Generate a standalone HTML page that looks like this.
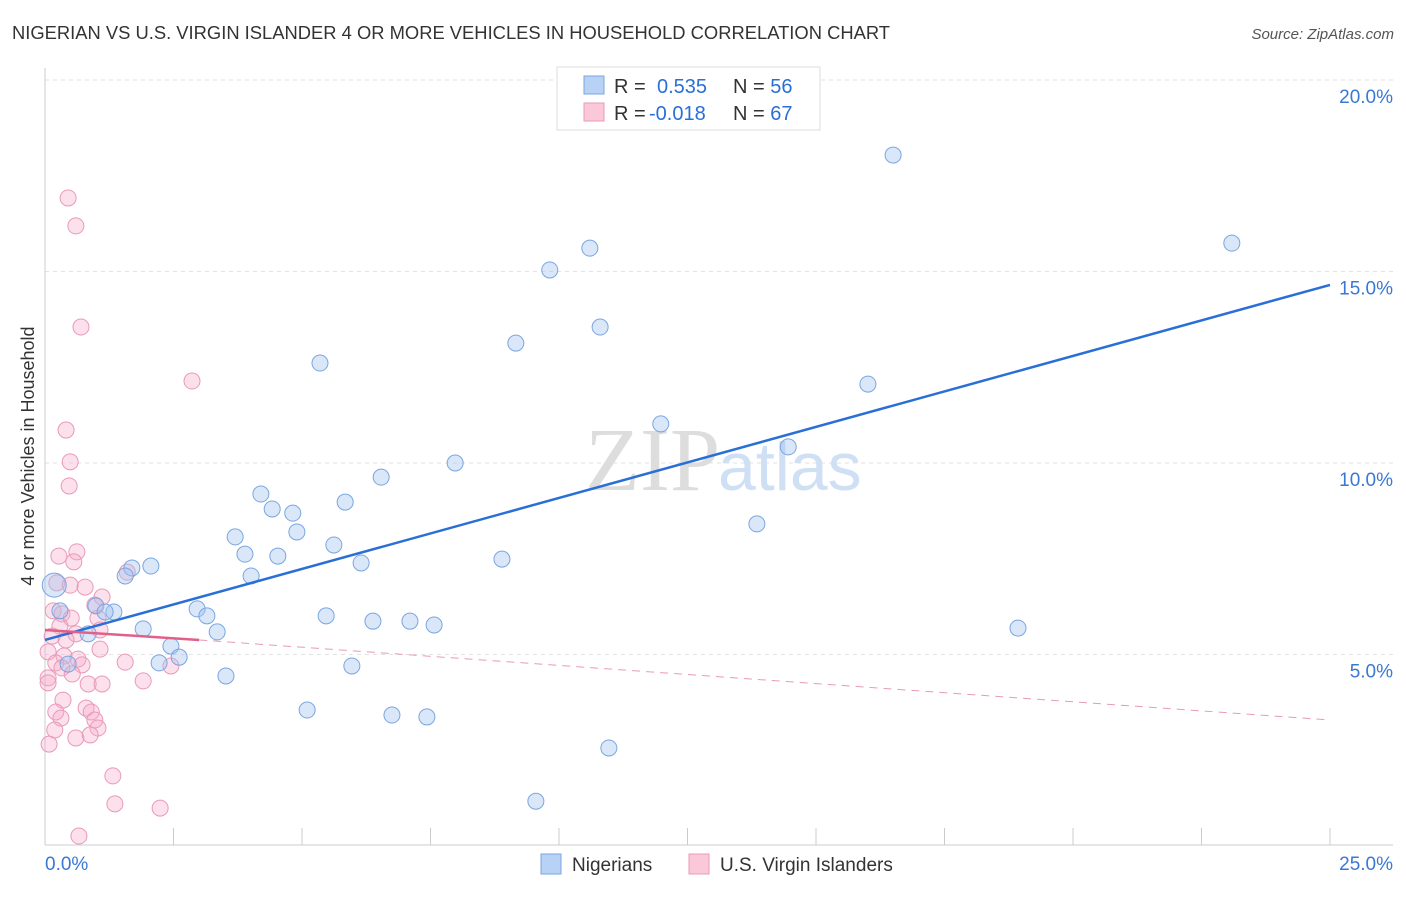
<!DOCTYPE html>
<html><head><meta charset="utf-8"><style>
body{margin:0;background:#fff;font-family:"Liberation Sans",sans-serif}
</style></head><body>
<svg width="1406" height="892" viewBox="0 0 1406 892" xmlns="http://www.w3.org/2000/svg">
<text x="12" y="39" font-size="18" fill="#333" textLength="878" lengthAdjust="spacingAndGlyphs">NIGERIAN VS U.S. VIRGIN ISLANDER 4 OR MORE VEHICLES IN HOUSEHOLD CORRELATION CHART</text>
<text x="1394" y="39" font-size="15" fill="#555" font-style="italic" text-anchor="end">Source: ZipAtlas.com</text>
<g id="grid"></g>
<text x="720" y="490" font-size="90" fill="#ddd" text-anchor="end" font-family="Liberation Serif">ZIP</text>
<text x="718" y="490" font-size="68" fill="#cfe0f5">atlas</text>
<line x1="45" y1="68" x2="45" y2="845" stroke="#ccc"/>
<line x1="45" y1="845" x2="1393" y2="845" stroke="#ccc"/>
<text transform="translate(34,456) rotate(-90)" font-size="18" fill="#333" text-anchor="middle">4 or more Vehicles in Household</text>
<text x="45" y="870" font-size="19" fill="#3a78d4">0.0%</text>
<text x="1393" y="870" font-size="19" fill="#3a78d4" text-anchor="end">25.0%</text>
<g id="marks"></g>
<g>
<rect x="557" y="67" width="263" height="63" fill="#fff" stroke="#ddd"/>
<rect x="584" y="76" width="20" height="18" fill="#b8d2f5" stroke="#7aa6e0"/>
<rect x="584" y="103" width="20" height="18" fill="#fbc8da" stroke="#e89ab8"/>
<text x="614" y="93" font-size="20" fill="#333">R = <tspan x="657" fill="#2a6fd6">0.535</tspan><tspan x="733">N = </tspan><tspan fill="#2a6fd6">56</tspan></text>
<text x="614" y="120" font-size="20" fill="#333">R = <tspan x="649" fill="#2a6fd6">-0.018</tspan><tspan x="733">N = </tspan><tspan fill="#2a6fd6">67</tspan></text>
</g>
<g>
<rect x="541" y="854" width="20" height="20" fill="#b8d2f5" stroke="#7aa6e0"/>
<text x="572" y="871" font-size="19" fill="#333">Nigerians</text>
<rect x="689" y="854" width="20" height="20" fill="#fbc8da" stroke="#e89ab8"/>
<text x="720" y="871" font-size="19" fill="#333">U.S. Virgin Islanders</text>
</g>
</svg>
<script>
const yTicks=[5,10,15,20];
const xTicks=[0,2.5,5,7.5,10,12.5,15,17.5,20,22.5,25];
const blueX=[16.5,23.09,10.6,9.82,10.8,9.16,5.35,16.01,11.98,14.46,7.98,6.54,4.2,5.84,4.42,4.82,13.85,4.9,3.7,5.62,3.89,4.53,8.89,6.15,2.06,1.69,1.56,4.01,2.8,2.96,0.99,1.34,1.17,3.15,5.47,6.38,7.1,7.57,18.93,1.91,3.35,0.84,0.29,2.45,2.61,2.22,5.97,0.45,3.52,5.1,6.75,7.43,10.97,9.55];
const blueY=[18.04,15.74,15.61,15.04,13.55,13.13,12.61,12.06,11.02,10.42,10,9.63,9.19,8.98,8.8,8.69,8.41,8.2,8.07,7.86,7.62,7.57,7.49,7.39,7.31,7.26,7.05,7.05,6.34,6.19,6.27,6.11,6.11,6.01,6.01,5.87,5.87,5.77,5.69,5.67,5.59,5.54,6.14,5.22,4.93,4.78,4.7,4.75,4.44,3.55,3.42,3.37,2.56,1.17];
const pinkX=[0.45,0.6,0.7,2.86,0.41,0.49,0.47,0.62,0.27,0.56,1.6,0.23,0.49,0.78,1.11,0.97,0.16,0.33,0.51,1.03,0.29,1.07,0.6,0.14,0.41,1.07,0.06,0.37,0.64,0.21,1.56,0.72,0.33,2.45,0.53,0.06,0.84,1.11,1.91,0.06,0.35,0.21,0.8,0.9,0.31,0.97,1.03,0.19,0.6,0.88,0.08,1.32,1.36,2.24,0.66];
const pinkY=[16.92,16.19,13.55,12.14,10.86,10.03,9.4,7.68,7.57,7.42,7.15,6.87,6.81,6.76,6.5,6.29,6.14,6.06,5.95,5.95,5.74,5.64,5.54,5.48,5.38,5.14,5.07,4.96,4.88,4.78,4.8,4.73,4.65,4.7,4.49,4.39,4.23,4.23,4.31,4.26,3.81,3.5,3.6,3.5,3.34,3.29,3.08,3.03,2.82,2.9,2.66,1.83,1.1,0.99,0.26];
const blueTrend=[[0,5.38],[25,14.65]];
const pinkTrend=[[0,5.64],[3,5.38],[25,3.29]];
const sx=v=>45+v*51.4, sy=v=>846-v*38.3;
const NS='http://www.w3.org/2000/svg';
function mk(t,a,p){const e=document.createElementNS(NS,t);for(const k in a)e.setAttribute(k,a[k]);p.appendChild(e);return e;}
const g=document.getElementById('grid'), m=document.getElementById('marks');
yTicks.forEach(t=>{const l=mk('line',{x1:45,x2:1393,y1:sy(t),y2:sy(t),stroke:'#e2e2e2','stroke-dasharray':'4,4'},g);


const tx=mk('text',{x:1393,y:sy(t)+23,'font-size':19,fill:'#3a78d4','text-anchor':'end'},g);tx.textContent=t.toFixed(1)+'%';

});
xTicks.forEach(t=>{const l=mk('line',{x1:sx(t),x2:sx(t),y1:828,y2:845,stroke:'#ccc'},g);

});
pinkX.forEach((x,i)=>{const c=mk('circle',{cx:sx(x),cy:sy(pinkY[i]),r:8,fill:'rgba(245,170,200,0.35)',stroke:'#e89ab8','stroke-width':1},m);

});
blueX.forEach((x,i)=>{const c=mk('circle',{cx:sx(x),cy:sy(blueY[i]),r:i==28?0:8,fill:'rgba(160,196,240,0.4)',stroke:'#7aa6e0','stroke-width':1},m);

});
const big=mk('circle',{cx:sx(0.18),cy:sy(6.81),r:12,fill:'rgba(160,196,240,0.4)',stroke:'#7aa6e0'},m);


let l1=mk('line',{x1:sx(blueTrend[0][0]),y1:sy(blueTrend[0][1]),x2:sx(blueTrend[1][0]),y2:sy(blueTrend[1][1]),stroke:'#2a6fd6','stroke-width':2.5},m);


let l2=mk('line',{x1:sx(pinkTrend[0][0]),y1:sy(pinkTrend[0][1]),x2:sx(pinkTrend[1][0]),y2:sy(pinkTrend[1][1]),stroke:'#e0608a','stroke-width':2.5},m);


let l3=mk('line',{x1:sx(pinkTrend[1][0]),y1:sy(pinkTrend[1][1]),x2:sx(pinkTrend[2][0]),y2:sy(pinkTrend[2][1]),stroke:'#e89ab8','stroke-width':1,'stroke-dasharray':'8,6'},m);


</script>
</body></html>
